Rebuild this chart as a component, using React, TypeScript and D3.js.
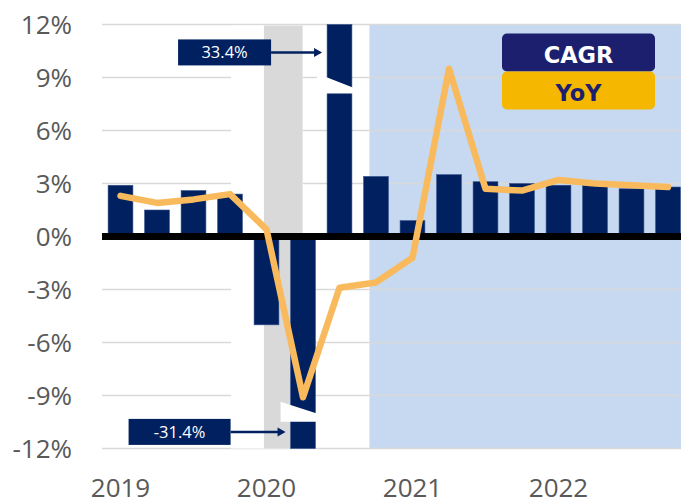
import React from 'react';
import * as d3 from 'd3';

const quarters = ['2019Q1','2019Q2','2019Q3','2019Q4','2020Q1','2020Q2','2020Q3','2020Q4','2021Q1','2021Q2','2021Q3','2021Q4','2022Q1','2022Q2','2022Q3','2022Q4'];
const cagr = [2.9, 1.5, 2.6, 2.4, -5.0, -31.4, 33.4, 3.4, 0.9, 3.5, 3.1, 3.0, 2.9, 2.9, 2.7, 2.8];
const yoy = [2.3, 1.9, 2.1, 2.4, 0.4, -9.1, -2.9, -2.6, -1.2, 9.5, 2.7, 2.6, 3.2, 3.0, 2.9, 2.8];
const yTicks = [-12, -9, -6, -3, 0, 3, 6, 9, 12];
const yearLabels = [
  { label: '2019', q: '2019Q1' },
  { label: '2020', q: '2020Q1' },
  { label: '2021', q: '2021Q1' },
  { label: '2022', q: '2022Q1' },
];
// shaded periods in quarter-index units
const recession = [4.43, 5.49];
const maskBand = [3.53, 5.5];
const forecastStart = 7.32;
// axis breaks: [value at left of cut, value at right of cut, value of far piece edge]
const breaks: Record<string, [number, number, number]> = {
  '2020Q3': [9.0, 8.45, 8.1],
  '2020Q2': [-9.54, -9.99, -10.48],
};
const callouts = [
  { q: '2020Q3', label: '33.4%', at: 10.42, boxW: 93, gap: 51 },
  { q: '2020Q2', label: '-31.4%', at: -11.06, boxW: 102, gap: 55 },
];
const legendItems = [
  { label: 'CAGR', fill: '#1B1F6E', color: '#FFFFFF' },
  { label: 'YoY', fill: '#F5B700', color: '#1B1F6E' },
];

const W = 681, H = 502;
const NAVY = '#002060';
const ORANGE = '#F8BA5C';

export default function App() {
  const x = d3.scaleBand<string>().domain(quarters).range([102.25, 686.25]).paddingInner(0.32).paddingOuter(0.16);
  const step = x.step();
  const x0 = 102.25;
  const qpos = (v: number) => x0 + v * step;
  const y = d3.scaleLinear().domain([-12, 12]).range([448.5, 24.5]);
  const bw = x.bandwidth();
  const clamp = (v: number) => Math.max(-12, Math.min(12, v));
  const line = d3.line<number>()
    .x((_, i) => (x(quarters[i]) as number) + bw / 2)
    .y((d) => y(d));

  const plotLeft = 102;
  const plotRight = W;

  return (
    <svg width={W} height={H} style={{ position: 'absolute', left: 0, top: 0, background: '#fff' }}>
      {/* forecast shading */}
      <rect x={qpos(forecastStart)} y={y(12)} width={plotRight - qpos(forecastStart)} height={y(-12) - y(12)} fill="#C6D9F0" />
      {/* gridlines */}
      {yTicks.filter((t) => t !== 0).map((t) => (
        <line key={t} x1={plotLeft} x2={plotRight} y1={y(t)} y2={y(t)} stroke="#D9D9D9" strokeWidth={1.5} />
      ))}
      {/* mask + recession */}
      <rect x={qpos(maskBand[0])} y={y(12) + 1} width={qpos(maskBand[1]) - qpos(maskBand[0])} height={y(-12) - y(12) - 1} fill="#FFFFFF" />
      <rect x={qpos(recession[0])} y={y(12) + 1} width={qpos(recession[1]) - qpos(recession[0])} height={y(-12) - y(12) - 1} fill="#D9D9D9" />
      {/* bars */}
      {cagr.map((v, i) => {
        const q = quarters[i];
        const cv = clamp(v);
        const bx = x(q) as number;
        return (
          <rect key={q} x={bx} y={Math.min(y(0), y(cv))} width={bw} height={Math.abs(y(cv) - y(0))} fill={NAVY} stroke="#35508A" strokeWidth={0.6} />
        );
      })}
      {/* breaks */}
      {Object.entries(breaks).map(([q, [vl, vr, vf]]) => {
        const bx = x(q) as number;
        const yl = y(vl), yr = y(vr), yf = y(vf);
        const slope = (yr - yl) / bw;
        const ext = 10;
        const pts = [
          [bx - ext, yl - slope * ext],
          [bx + bw + 1.5, yr + slope * 1.5],
          [bx + bw + 1.5, yf],
          [bx - ext, yf],
        ];
        return <polygon key={q} points={pts.map((p) => p.join(',')).join(' ')} fill="#FFFFFF" />;
      })}
      {/* zero line */}
      <line x1={plotLeft} x2={plotRight} y1={y(0)} y2={y(0)} stroke="#000" strokeWidth={7} />
      {/* YoY line */}
      <path d={line(yoy) || ''} fill="none" stroke={ORANGE} strokeWidth={6.5} strokeLinejoin="round" strokeLinecap="round" />
      {/* callouts */}
      {callouts.map((c) => {
        const tip = (x(c.q) as number) - 5;
        const boxR = tip - c.gap;
        const cy = y(c.at);
        const h = 26;
        return (
          <g key={c.q}>
            <line x1={boxR} x2={tip - 6} y1={cy} y2={cy} stroke={NAVY} strokeWidth={2.5} />
            <polygon points={`${tip},${cy} ${tip - 8},${cy - 4.5} ${tip - 8},${cy + 4.5}`} fill={NAVY} />
            <rect x={boxR - c.boxW} y={cy - h / 2} width={c.boxW} height={h} fill={NAVY} />
            <text x={boxR - c.boxW / 2} y={cy + 6} textAnchor="middle" fill="#FFFFFF" fontFamily="Open Sans" fontSize={16.5}>{c.label}</text>
          </g>
        );
      })}
      {/* y labels */}
      {yTicks.map((t) => (
        <text key={t} x={72} y={y(t) + 9.3} textAnchor="end" fill="#595959" fontFamily="Open Sans" fontSize={26}>{`${t}%`}</text>
      ))}
      {/* x labels */}
      {yearLabels.map((d) => (
        <text key={d.label} x={(x(d.q) as number) + bw / 2} y={497} textAnchor="middle" fill="#595959" fontFamily="Open Sans" fontSize={26}>{d.label}</text>
      ))}
      {/* legend */}
      {legendItems.map((l, i) => (
        <g key={l.label}>
          <rect x={502} y={33.5 + i * 38} width={153} height={38} rx={5} fill={l.fill} />
          <text x={578.5} y={33.5 + i * 38 + 29} textAnchor="middle" fill={l.color} fontFamily="DejaVu Sans" fontWeight="bold" fontSize={22.5}>{l.label}</text>
        </g>
      ))}
    </svg>
  );
}
